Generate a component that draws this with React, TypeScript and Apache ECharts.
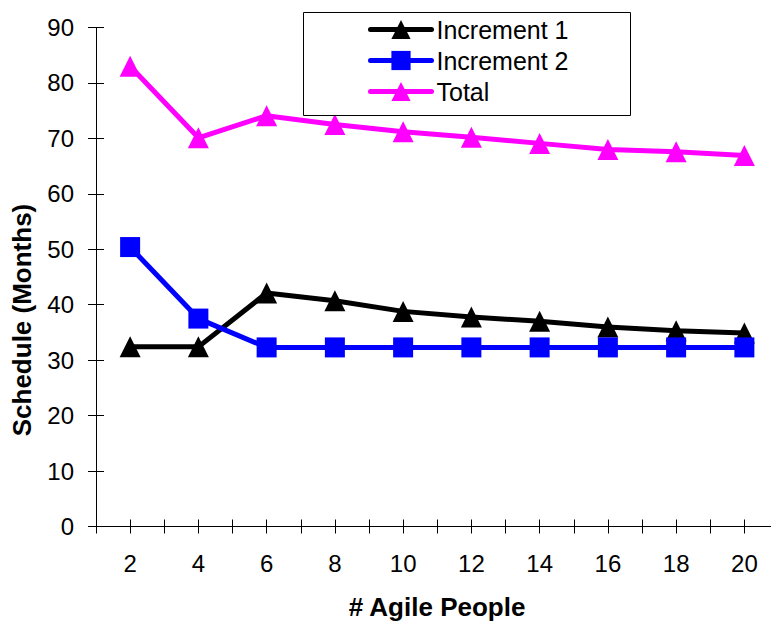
import React, { useEffect, useRef } from "react";
import * as echarts from "echarts";

const agilePeople = [2, 4, 6, 8, 10, 12, 14, 16, 18, 20];
const increment1 = [32.4, 32.4, 42.1, 40.7, 38.8, 37.8, 37.0, 36.0, 35.3, 34.9];
const increment2 = [50.4, 37.5, 32.3, 32.3, 32.3, 32.3, 32.3, 32.3, 32.3, 32.3];
const total = [83.0, 70.1, 74.1, 72.5, 71.2, 70.2, 69.1, 68.0, 67.6, 66.9];
const yTicks = [0, 10, 20, 30, 40, 50, 60, 70, 80, 90];

const FONT = "'Liberation Sans', Arial, Helvetica, sans-serif";

export default function App() {
  const ref = useRef<HTMLDivElement>(null);
  useEffect(() => {
    if (!ref.current) return;
    const chart = echarts.init(ref.current, undefined, { renderer: "svg" });
    const pairs = (vals: number[]) => agilePeople.map((x, i) => [x, vals[i]]);
    const yMin = yTicks[0];
    const yMax = yTicks[yTicks.length - 1];
    const xAxisBase = {
      type: "value",
      min: 1,
      max: 21,
      interval: 1,
      splitLine: { show: false },
    };
    const yAxisBase = {
      type: "value",
      min: yMin,
      max: yMax,
      interval: 10,
      position: "left",
      splitLine: { show: false },
    };
    chart.setOption({
      animation: false,
      backgroundColor: "#ffffff",
      textStyle: { fontFamily: FONT },
      grid: {
        left: 96,
        width: 682.5,
        top: 27.5,
        height: 499,
        containLabel: false,
        outerBoundsMode: "none",
      },
      xAxis: [
        {
          ...xAxisBase,
          axisLine: { show: true, lineStyle: { color: "#000", width: 1 } },
          axisTick: { show: true, inside: false, length: 7, lineStyle: { color: "#000", width: 1 } },
          axisLabel: {
            show: true,
            margin: 25,
            fontSize: 24,
            fontFamily: FONT,
            color: "#000",
            formatter: (v: number) => (v % 2 === 0 && v <= 20 ? String(v) : ""),
          },
        },
        {
          ...xAxisBase,
          position: "bottom",
          axisLine: { show: false },
          axisTick: { show: true, inside: true, length: 7, lineStyle: { color: "#000", width: 1 } },
          axisLabel: { show: false },
        },
      ],
      yAxis: [
        {
          ...yAxisBase,
          axisLine: { show: true, lineStyle: { color: "#000", width: 1 } },
          axisTick: { show: true, inside: false, length: 8, lineStyle: { color: "#000", width: 1 } },
          axisLabel: { show: true, margin: 22, fontSize: 24, fontFamily: FONT, color: "#000" },
        },
        {
          ...yAxisBase,
          axisLine: { show: false },
          axisTick: { show: true, inside: true, length: 8, lineStyle: { color: "#000", width: 1 } },
          axisLabel: { show: false },
        },
      ],
      legend: {
        orient: "vertical",
        left: 368,
        top: 17,
        padding: 0,
        itemWidth: 61,
        itemHeight: 24,
        itemGap: 6,
        z: 5,
        lineStyle: { width: 5, cap: "round" },
        textStyle: { fontSize: 25, fontFamily: FONT, color: "#000" },
        data: ["Increment 1", "Increment 2", "Total"],
      },
      graphic: [
        {
          type: "rect",
          z: 4,
          shape: { x: 303.5, y: 12.5, width: 327, height: 103 },
          style: { fill: "#ffffff", stroke: "#000", lineWidth: 1 },
        },
        {
          type: "text",
          x: 437,
          y: 607,
          style: {
            text: "# Agile People",
            font: `bold 26px ${FONT}`,
            fill: "#000",
            textAlign: "center",
            textVerticalAlign: "middle",
          },
        },
        {
          type: "text",
          x: 22,
          y: 320,
          rotation: Math.PI / 2,
          style: {
            text: "Schedule (Months)",
            font: `bold 26px ${FONT}`,
            fill: "#000",
            textAlign: "center",
            textVerticalAlign: "middle",
          },
        },
      ],
      series: [
        {
          name: "Increment 1",
          type: "line",
          xAxisIndex: 0,
          yAxisIndex: 0,
          data: pairs(increment1),
          symbol: "triangle",
          symbolSize: [21, 21],
          color: "#000000",
          lineStyle: { color: "#000000", width: 5, cap: "round", join: "round" },
          itemStyle: { color: "#000000" },
        },
        {
          name: "Increment 2",
          type: "line",
          xAxisIndex: 0,
          yAxisIndex: 0,
          data: pairs(increment2),
          symbol: "rect",
          symbolSize: 20,
          color: "#0000ff",
          lineStyle: { color: "#0000ff", width: 5, cap: "round", join: "round" },
          itemStyle: { color: "#0000ff" },
        },
        {
          name: "Total",
          type: "line",
          xAxisIndex: 0,
          yAxisIndex: 0,
          data: pairs(total),
          symbol: "triangle",
          symbolSize: [21, 21],
          color: "#ff00ff",
          lineStyle: { color: "#ff00ff", width: 5, cap: "round", join: "round" },
          itemStyle: { color: "#ff00ff" },
        },
      ],
    });
    return () => chart.dispose();
  }, []);
  return (
    <div
      ref={ref}
      style={{ position: "absolute", left: 0, top: 0, width: 771, height: 623 }}
    />
  );
}
